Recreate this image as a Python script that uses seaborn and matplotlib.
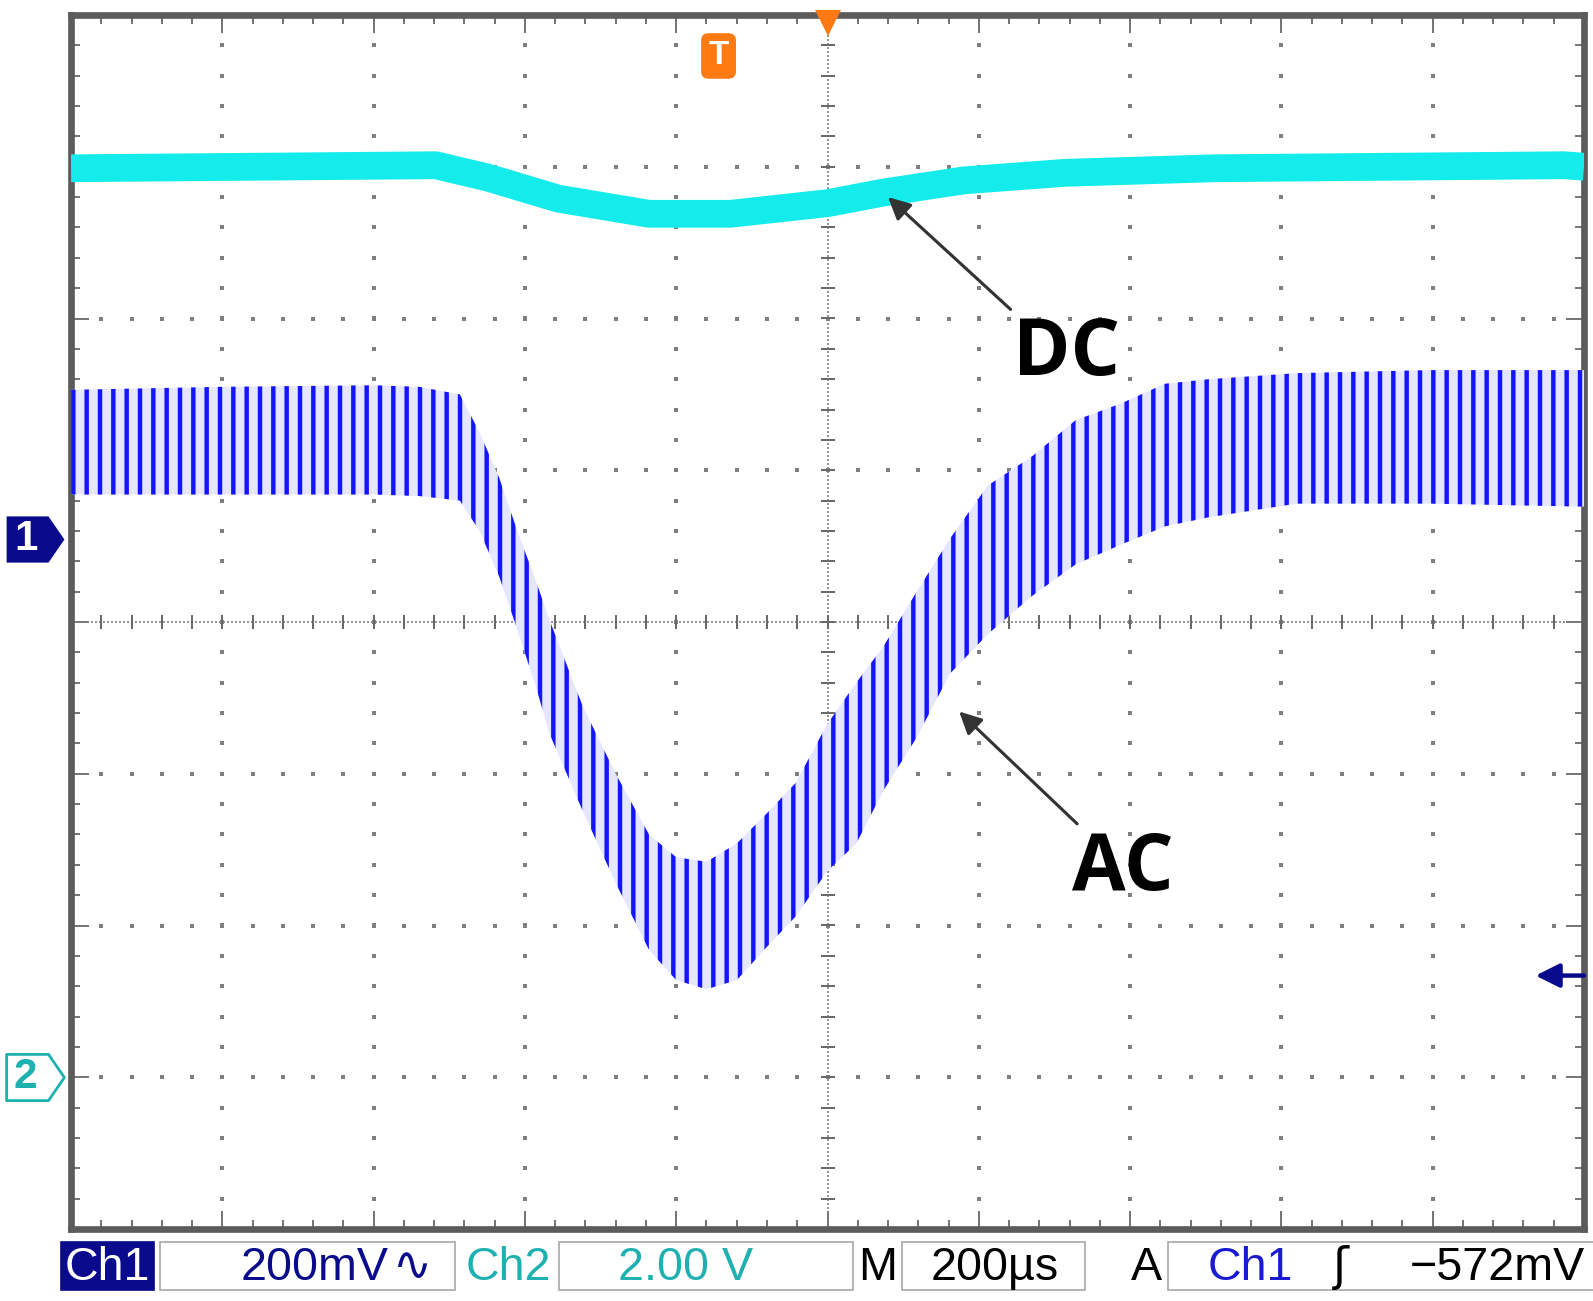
import numpy as np
import matplotlib
matplotlib.use('Agg')
import matplotlib.pyplot as plt
from matplotlib.patches import Rectangle
from matplotlib.path import Path
from matplotlib.ticker import MultipleLocator
import matplotlib.transforms as mtransforms
import seaborn as sns

# screen in divisions: 10 x 8, 200us/div
# Ch1 (AC coupled) band: time, upper edge, lower edge
ac_t = [-5.0, -4.0, -3.0, -2.7, -2.43, -2.30, -2.17, -2.05, -1.92, -1.84, -1.62, -1.40,
        -1.18, -1.00, -0.80, -0.60, -0.40, -0.21, 0.0, 0.19, 0.37, 0.59, 0.81, 1.06,
        1.35, 1.64, 1.94, 2.23, 2.52, 3.10, 3.98, 5.0]
ac_top = [1.53, 1.55, 1.56, 1.55, 1.50, 1.25, 0.95, 0.60, 0.25, 0.02, -0.55, -1.00,
          -1.40, -1.55, -1.58, -1.46, -1.26, -1.06, -0.67, -0.40, -0.16, 0.20, 0.55, 0.90,
          1.09, 1.33, 1.44, 1.57, 1.60, 1.64, 1.66, 1.66]
ac_bot = [0.84, 0.84, 0.84, 0.83, 0.80, 0.60, 0.30, -0.05, -0.45, -0.73, -1.24, -1.72,
          -2.16, -2.36, -2.42, -2.36, -2.14, -1.94, -1.64, -1.46, -1.11, -0.76, -0.34, -0.08,
          0.17, 0.38, 0.51, 0.63, 0.69, 0.78, 0.78, 0.76]

# Ch2 (DC) trace centre
dc_t = [-5.0, -2.59, -2.25, -1.78, -1.18, -0.64, 0.0, 0.37, 0.90, 1.57, 2.56, 4.87, 5.0]
dc_v = [2.99, 3.01, 2.93, 2.79, 2.69, 2.69, 2.76, 2.83, 2.91, 2.96, 2.99, 3.01, 3.0]

ch1_ref = 0.55
ch2_ref = -3.0
trig_level = -2.33
trig_time = 0.0
t_marker = (-0.72, 3.73)

dc_label = ('DC', 1.58, 1.76)
dc_arrow = [(1.21, 2.06), (0.40, 2.80)]
ac_label = ('AC', 1.95, -1.63)
ac_arrow = [(1.65, -1.33), (0.87, -0.59)]

status_left = ['Ch1', '200mV', 'Ch2', '2.00 V', 'M', '200\u00b5s']
status_right = ['A', 'Ch1', '\u0283', '\u2212572mV']

NAVY = '#0a0a8c'
BLUE = '#1414ff'
CYAN = '#14ecec'
TEAL = '#1fb0b0'
ORANGE = '#ff7a12'
GRID = '#808080'

sns.set_theme(style='white')
plt.rcParams['font.family'] = ['Liberation Sans', 'DejaVu Sans']
plt.rcParams['hatch.linewidth'] = 4.0

W, H, DPI = 1593, 1301, 80
fig = plt.figure(figsize=(W / DPI, H / DPI), dpi=DPI)
fig.patch.set_facecolor('white')
ax = fig.add_axes([71 / W, 1 - 1229 / H, 1513 / W, 1214 / H])
ax.set_xlim(-5, 5)
ax.set_ylim(-4, 4)

# graticule
steps_x = np.arange(-5, 5.001, 0.2)
steps_y = np.arange(-4, 4.001, 0.2)
for k in range(-4, 5):
    if k == 0:
        continue
    ax.plot(np.full_like(steps_y, k), steps_y, ls='none', marker='s', ms=3,
            mew=0, color=GRID, zorder=1)
for j in range(-3, 4):
    if j == 0:
        continue
    ax.plot(steps_x, np.full_like(steps_x, j), ls='none', marker='s', ms=3,
            mew=0, color=GRID, zorder=1)
ax.axvline(0, color='#808080', lw=1.5, ls=(0, (1.2, 1.2)), zorder=1)
ax.axhline(0, color='#808080', lw=1.5, ls=(0, (1.2, 1.2)), zorder=1)
ax.plot(np.zeros_like(steps_y), steps_y, ls='none', marker='_', ms=12, mew=1.8,
        color='#6a6a6a', zorder=1)
ax.plot(steps_x, np.zeros_like(steps_x), ls='none', marker='|', ms=12, mew=1.8,
        color='#6a6a6a', zorder=1)

ax.xaxis.set_major_locator(MultipleLocator(1))
ax.yaxis.set_major_locator(MultipleLocator(1))
ax.xaxis.set_minor_locator(MultipleLocator(0.2))
ax.yaxis.set_minor_locator(MultipleLocator(0.2))
ax.tick_params(which='both', direction='in', top=True, right=True, bottom=True, left=True,
               labelbottom=False, labelleft=False, color='#666666')
ax.tick_params(which='major', length=16, width=1.6)
ax.tick_params(which='minor', length=8, width=1.6)
for sp in ax.spines.values():
    sp.set_linewidth(6)
    sp.set_color('#5c5c5c')

# Ch1 trace (AC)
ax.fill_between(ac_t, ac_bot, ac_top, facecolor='#e4e7ff', edgecolor=BLUE, hatch='|',
                linewidth=0, zorder=3)

# Ch2 trace (DC)
sns.lineplot(x=dc_t, y=dc_v, ax=ax, color=CYAN, lw=25, solid_capstyle='butt',
             solid_joinstyle='round', zorder=4)

# annotations
for (lab, lx, ly), (tail, head) in [(dc_label, dc_arrow), (ac_label, ac_arrow)]:
    ax.text(lx, ly, lab, fontsize=70, fontweight='bold', color='black',
            family=['Open Sans', 'DejaVu Sans'], ha='center', va='center', zorder=6)
    ax.annotate('', xy=head, xytext=tail,
                arrowprops=dict(arrowstyle='-|>', color='#333333', lw=2.8,
                                mutation_scale=42, shrinkA=0, shrinkB=0), zorder=6)

# trigger markers
ax.plot(trig_time, 3.95, marker='v', ms=24, color=ORANGE, mew=0, clip_on=False, zorder=7)
ax.text(t_marker[0], t_marker[1], 'T', fontsize=30, fontweight='bold', color='white',
        ha='center', va='center', zorder=7,
        bbox=dict(boxstyle='round,pad=0.2', fc=ORANGE, ec=ORANGE))
ax.annotate('', xy=(4.68, trig_level), xytext=(5.0, trig_level),
            arrowprops=dict(arrowstyle='-|>', color=NAVY, lw=4, mutation_scale=45,
                            shrinkA=0, shrinkB=0), zorder=7)

# channel reference markers on the left
pent = Path([(-1, -0.8), (0.45, -0.8), (1, 0), (0.45, 0.8), (-1, 0.8), (-1, -0.8)],
            [Path.MOVETO, Path.LINETO, Path.LINETO, Path.LINETO, Path.LINETO, Path.CLOSEPOLY])
lt = mtransforms.blended_transform_factory(ax.transAxes, ax.transData)
ax.plot(-0.024, ch1_ref, marker=pent, ms=52, color=NAVY, mew=0, transform=lt, clip_on=False)
ax.text(-0.03, ch1_ref, '1', transform=lt, fontsize=38, fontweight='bold', color='white',
        ha='center', va='center')
ax.plot(-0.024, ch2_ref, marker=pent, ms=52, mfc='white', mec=TEAL, mew=2.5, transform=lt,
        clip_on=False)
ax.text(-0.03, ch2_ref, '2', transform=lt, fontsize=38, fontweight='bold', color=TEAL,
        ha='center', va='center')


# status bar
def fx(px):
    return px / W


def fy(py):
    return 1 - py / H


def box(x0, x1, fc='white', ec='#a8a8a8'):
    fig.add_artist(Rectangle((fx(x0), fy(1290)), fx(x1) - fx(x0), fy(1242) - fy(1290),
                             transform=fig.transFigure, fc=fc, ec=ec, lw=1.5))


ty = fy(1268)
fs = 42
box(61, 154, fc=NAVY, ec=NAVY)
box(160, 455)
box(559, 853)
box(902, 1085)
box(1168, 1600)
fig.text(fx(107), ty, status_left[0], color='white', fontsize=fs, ha='center', va='center')
fig.text(fx(315), ty, status_left[1], color=NAVY, fontsize=fs, ha='center', va='center')
fig.text(fx(392), ty, '\u223f', color=NAVY, fontsize=fs, ha='left', va='center',
         family=['DejaVu Sans'])
fig.text(fx(508), ty, status_left[2], color=TEAL, fontsize=fs, ha='center', va='center')
fig.text(fx(686), ty, status_left[3], color=TEAL, fontsize=fs, ha='center', va='center')
fig.text(fx(878), ty, status_left[4], color='black', fontsize=fs, ha='center', va='center')
fig.text(fx(995), ty, status_left[5], color='black', fontsize=fs, ha='center', va='center')
fig.text(fx(1146), ty, status_right[0], color='black', fontsize=fs, ha='center', va='center')
fig.text(fx(1250), ty, status_right[1], color='#1a1ad0', fontsize=fs, ha='center', va='center')
fig.text(fx(1341), ty, status_right[2], color='black', fontsize=fs, ha='center', va='center',
         family=['DejaVu Sans'])
fig.text(fx(1585), ty, status_right[3], color='black', fontsize=fs, ha='right', va='center')

fig.savefig('out.png', dpi=DPI, facecolor='white')
